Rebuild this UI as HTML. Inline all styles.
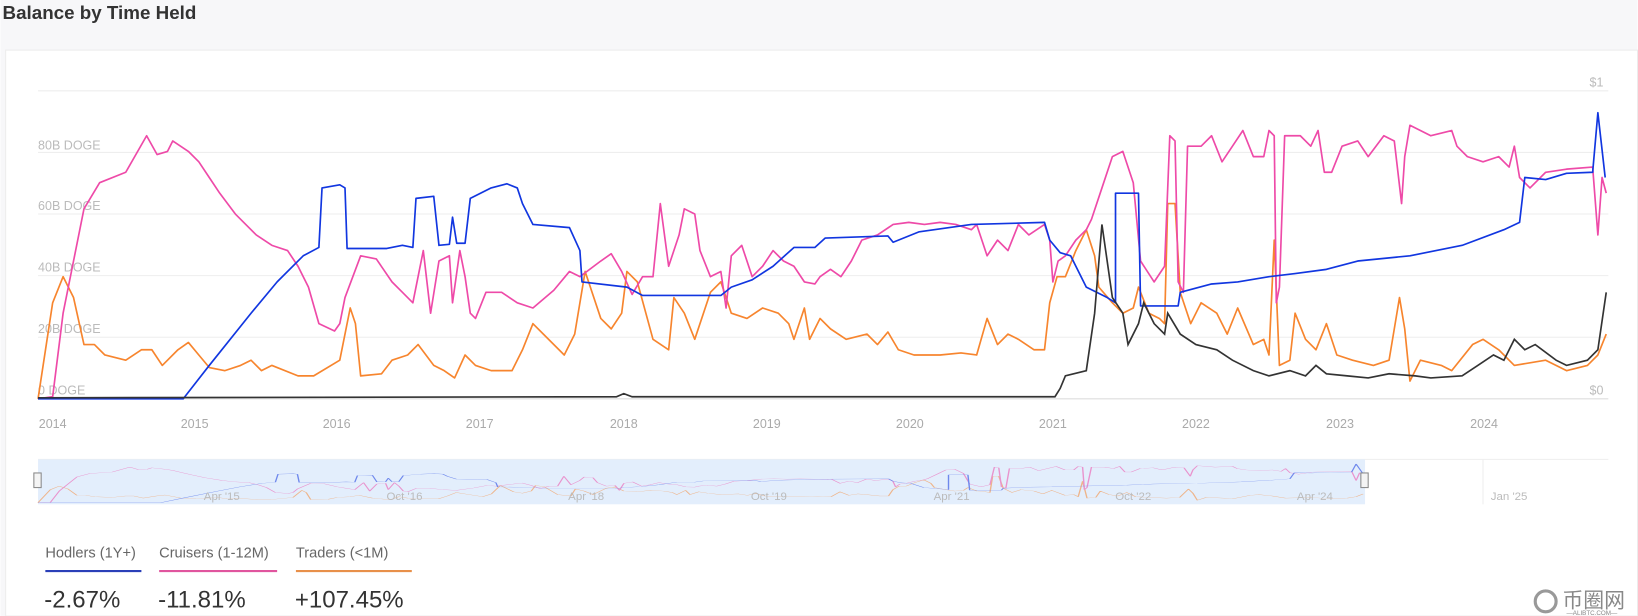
<!DOCTYPE html>
<html><head><meta charset="utf-8"><style>
html,body{margin:0;padding:0;background:#fff;}
svg{display:block;font-family:"Liberation Sans",sans-serif;}
</style></head><body>
<svg width="1638" height="616" viewBox="0 0 1568 590" xmlns="http://www.w3.org/2000/svg">
<rect x="0" y="0" width="1568" height="590" fill="#f7f7f9"/>
<rect x="5" y="48" width="1563" height="542" fill="#fff" stroke="#ececec"/>
<text x="2" y="18" font-size="18" font-weight="bold" fill="#333">Balance by Time Held</text>
<g stroke="#eeeeee" stroke-width="1">
<line x1="36" y1="87" x2="1540" y2="87"/><line x1="36" y1="146" x2="1540" y2="146"/><line x1="36" y1="205" x2="1540" y2="205"/><line x1="36" y1="264" x2="1540" y2="264"/><line x1="36" y1="323" x2="1540" y2="323"/>
</g>
<line x1="36" y1="382" x2="1540" y2="382" stroke="#ddd"/>
<g font-size="12" fill="#bbb">
<text x="36" y="143">80B DOGE</text><text x="36" y="201">60B DOGE</text><text x="36" y="260">40B DOGE</text><text x="36" y="319">20B DOGE</text><text x="36" y="378">0 DOGE</text>
<text x="1522" y="83">$1</text><text x="1522" y="378">$0</text>
</g>
<g font-size="12" fill="#aaa" text-anchor="middle">
<text x="50" y="410">2014</text><text x="186" y="410">2015</text><text x="322" y="410">2016</text><text x="459" y="410">2017</text><text x="597" y="410">2018</text><text x="734" y="410">2019</text><text x="871" y="410">2020</text><text x="1008" y="410">2021</text><text x="1145" y="410">2022</text><text x="1283" y="410">2023</text><text x="1421" y="410">2024</text>
</g>
<defs>
<g id="series" fill="none" stroke-width="1.6" stroke-linejoin="round">
<polyline stroke="#f7852e" points="36,382 50,290 60,265 70,285 80,330 90,330 100,340 120,345 135,335 145,335 155,350 170,335 180,328 190,340 200,352 215,355 230,350 240,345 250,355 260,350 285,360 300,360 325,345 335,295 340,310 345,360 365,358 375,345 390,340 400,330 415,350 425,355 435,362 445,340 455,350 470,355 490,355 500,335 510,310 520,320 540,340 550,320 560,260 575,305 585,315 595,300 600,260 610,270 625,325 640,335 645,285 655,300 665,325 680,280 690,270 700,300 715,305 730,295 745,300 755,310 760,325 770,295 775,325 785,305 795,315 810,325 830,320 840,330 850,318 860,335 875,340 900,340 920,338 935,340 945,305 955,330 965,320 975,325 990,335 1000,335 1005,290 1012,265 1020,265 1030,240 1040,220 1048,245 1052,275 1065,290 1075,300 1085,295 1090,275 1100,300 1110,305 1115,310 1118,195 1125,195 1130,280 1140,310 1150,290 1165,300 1175,320 1185,295 1200,330 1210,325 1215,340 1220,230 1225,350 1235,345 1240,300 1250,325 1260,335 1270,310 1280,340 1295,345 1315,350 1330,345 1340,285 1345,315 1350,365 1360,345 1380,350 1390,355 1410,330 1420,325 1435,335 1450,350 1480,345 1500,355 1520,350 1530,340 1538,320"/>
<polyline stroke="#ee4aa8" points="36,382 50,380 60,300 70,250 80,200 95,175 120,165 140,130 150,148 160,145 165,135 180,145 190,155 200,170 210,185 225,205 245,225 260,235 275,240 285,255 295,275 305,310 320,317 325,310 330,285 345,245 360,248 375,270 385,280 395,290 400,265 405,240 412,300 420,250 430,245 433,290 440,240 445,265 450,300 455,305 465,280 480,280 495,290 510,295 530,278 545,260 555,265 575,250 585,243 595,260 605,282 615,265 625,265 632,195 640,255 650,225 655,200 665,205 670,240 680,265 690,260 695,295 700,245 710,235 720,265 730,255 740,240 750,250 760,255 770,270 780,272 785,265 795,258 805,265 815,250 825,230 840,225 855,215 870,213 885,215 900,213 915,215 930,220 935,215 945,245 955,230 965,240 975,215 985,225 1000,215 1005,230 1008,270 1013,250 1020,245 1030,230 1040,220 1045,210 1055,180 1065,150 1075,145 1085,175 1092,250 1105,270 1115,255 1120,130 1125,135 1128,270 1133,280 1137,140 1150,140 1160,130 1170,155 1180,140 1190,125 1200,150 1210,150 1215,125 1220,130 1222,290 1225,275 1230,130 1245,130 1255,140 1262,125 1268,165 1275,165 1285,140 1300,135 1310,150 1325,130 1335,135 1342,195 1345,150 1350,120 1360,125 1370,130 1390,125 1395,140 1405,150 1420,155 1435,150 1445,160 1450,140 1455,170 1465,180 1480,165 1500,162 1525,160 1530,225 1534,170 1538,185"/>
<polyline stroke="#1136e0" points="36,382 175,382 200,350 240,300 265,270 290,245 305,237 308,180 325,177 330,180 332,238 370,238 385,235 395,237 398,190 415,188 420,235 430,234 433,208 437,233 445,233 450,190 470,180 485,176 495,180 500,195 510,215 545,218 555,240 557,270 600,275 615,283 690,283 700,275 720,268 740,255 760,237 780,237 790,228 850,226 855,232 880,222 930,215 1000,213 1005,230 1015,242 1025,245 1040,275 1060,285 1068,290 1068,185 1090,185 1092,293 1128,293 1130,280 1160,272 1185,270 1215,265 1240,262 1270,258 1300,250 1350,245 1400,235 1440,220 1455,213 1460,170 1480,172 1500,166 1525,165 1530,108 1537,170"/>
</g>
</defs>
<use href="#series"/>
<polyline fill="none" stroke="#333" stroke-width="1.6" points="36,381 590,380 597,377 605,380 1010,380 1015,372 1020,360 1040,355 1048,300 1055,215 1065,285 1075,300 1080,330 1090,310 1095,290 1105,310 1115,320 1118,300 1130,320 1145,330 1165,335 1180,345 1200,355 1215,360 1235,355 1250,360 1260,350 1270,358 1290,360 1310,362 1330,358 1355,360 1370,362 1400,360 1415,350 1430,340 1440,345 1450,325 1460,335 1470,330 1490,345 1500,350 1520,345 1530,335 1538,280"/>
<!-- navigator -->
<line x1="36" y1="440" x2="1540" y2="440" stroke="#eee"/>
<line x1="1420" y1="440" x2="1420" y2="483" stroke="#eee"/>
<rect x="36" y="440" width="1271" height="43" fill="#e3eefc"/>
<g opacity="0.55" transform="translate(36,442) scale(0.845,0.135) translate(-36,-90)">
<use href="#series" style="stroke-width:1"/>
</g>
<g font-size="11" fill="#bbb" text-anchor="middle">
<text x="212" y="479">Apr '15</text><text x="387" y="479">Oct '16</text><text x="561" y="479">Apr '18</text><text x="736" y="479">Oct '19</text><text x="911" y="479">Apr '21</text><text x="1085" y="479">Oct '22</text><text x="1259" y="479">Apr '24</text><text x="1445" y="479">Jan '25</text>
</g>
<rect x="32" y="453" width="7" height="14" fill="#f4f4f4" stroke="#888"/>
<rect x="1303" y="453" width="7" height="14" fill="#f4f4f4" stroke="#888"/>
<!-- legend -->
<g font-size="14" fill="#666">
<text x="43" y="534">Hodlers (1Y+)</text><text x="152" y="534">Cruisers (1-12M)</text><text x="283" y="534">Traders (&lt;1M)</text>
</g>
<line x1="43" y1="547" x2="135" y2="547" stroke="#2a3fb8" stroke-width="2"/>
<line x1="152" y1="547" x2="265" y2="547" stroke="#e0559e" stroke-width="2"/>
<line x1="283" y1="547" x2="394" y2="547" stroke="#e8904a" stroke-width="2"/>
<g font-size="23" fill="#333">
<text x="42" y="582">-2.67%</text><text x="151" y="582">-11.81%</text><text x="282" y="582">+107.45%</text>
</g>
<circle cx="1480" cy="576" r="10" fill="none" stroke="#999" stroke-width="3"/>
<text x="1496" y="582" font-size="20" fill="#888" font-family="'Liberation Sans','Noto Sans CJK SC',sans-serif">币圈网</text>
<text x="1500" y="589" font-size="6" fill="#888">—ALIBTC.COM—</text>
</svg>
</body></html>
